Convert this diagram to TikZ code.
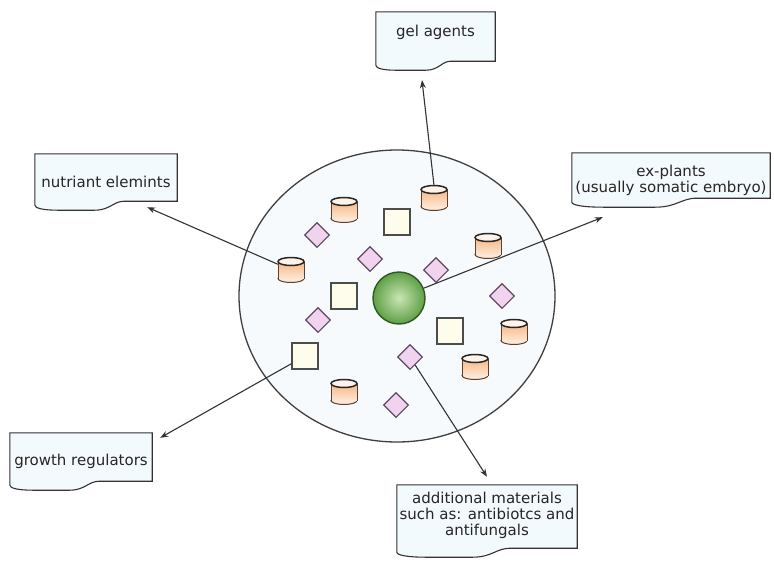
\documentclass[tikz,border=0pt]{standalone}
\usepackage{fontspec}
\setmainfont{DejaVu Sans}
\usetikzlibrary{shapes.geometric,arrows.meta,calc,backgrounds}
\definecolor{linec}{HTML}{333333}
\definecolor{boxfill}{HTML}{F3FAFD}
\definecolor{dishfill}{HTML}{F6FAFC}
\definecolor{canA}{HTML}{F5B784}
\definecolor{canB}{HTML}{FDE6D3}
\definecolor{canTop}{HTML}{FFF3EA}
\definecolor{canline}{HTML}{5A4030}
\definecolor{sqfill}{HTML}{FEFCEA}
\definecolor{dmfill}{HTML}{F1D3F0}
\definecolor{dmline}{HTML}{5C4A62}
\definecolor{ballin}{HTML}{C8E6B4}
\definecolor{ballout}{HTML}{5F9F46}
\definecolor{ballline}{HTML}{2F5A22}
\tikzset{
 doc/.style={rectangle, draw=none, inner sep=0pt, align=center,
   font=\fontsize{15}{16}\selectfont, text=black!85},
 docframe/.style={draw=linec, line width=1.1pt, fill=boxfill},
 conn/.style={draw=linec, line width=1.1pt, -{Stealth[length=8pt,width=6pt]}},
 canbox/.style={rectangle, minimum width=26pt, minimum height=25pt, inner sep=0pt},
 sqbox/.style={rectangle, draw=black!70, line width=1.1pt, fill=sqfill,
   minimum size=26pt, inner sep=0pt},
 dmbox/.style={diamond, draw=dmline, line width=1.1pt, fill=dmfill,
   minimum width=25pt, minimum height=25pt, inner sep=0pt},
 ballnode/.style={circle, minimum size=52pt, inner sep=0pt, inner color=ballin,
   outer color=ballout, draw=ballline, line width=1.4pt},
}
\newcommand\drawdoc[1]{%
 \path[docframe] let \p1=(#1.north west), \p2=(#1.south east), \n1={\x2-\x1} in
  (\x1,\y1) -- (\x2,\y1) -- (\x2,\y2+9pt) -- (\x1+0.63*\n1,\y2+9pt)
  .. controls (\x1+0.55*\n1,\y2+9pt) and (\x1+0.53*\n1,\y2) .. (\x1+0.42*\n1,\y2)
  -- (\x1+0.16*\n1,\y2) .. controls (\x1+0.06*\n1,\y2) and (\x1,\y2+2pt) .. (\x1,\y2+5pt)
  -- cycle;}
\begin{document}
\begin{tikzpicture}[x=1pt,y=-1pt]
\useasboundingbox (0,0) rectangle (774,562);
% dish
\draw[draw=black!75, line width=1.3pt, fill=dishfill] (397,296) ellipse [x radius=158, y radius=146];
% cylinders
\foreach \cx/\cy/\nm in {434/198/c1, 344/210/c2, 488/246/c3, 291/270/c4, 514/332/c5, 475/367/c6, 344/392/c7}{
  \node[canbox] (\nm) at (\cx,\cy) {};
  \filldraw[fill=canB, draw=canline, line width=1pt] (\cx,\cy+8.5) ellipse [x radius=13, y radius=4];
  \shade[top color=canA, bottom color=canB] (\cx-13,\cy-8.5) rectangle (\cx+13,\cy+8.5);
  \draw[canline, line width=1pt] (\cx-13,\cy-8.5) -- (\cx-13,\cy+8.5) (\cx+13,\cy-8.5) -- (\cx+13,\cy+8.5);
  \filldraw[fill=canTop, draw=black!85, line width=1.5pt] (\cx,\cy-8.5) ellipse [x radius=13, y radius=4];
}
% squares
\node[sqbox] (q1) at (397,222) {};
\node[sqbox] (q2) at (344,296) {};
\node[sqbox] (q3) at (305,356) {};
\node[sqbox] (q4) at (450,331) {};
% diamonds
\node[dmbox] (d1) at (317,235) {};
\node[dmbox] (d2) at (370,259) {};
\node[dmbox] (d3) at (436,270) {};
\node[dmbox] (d4) at (502,296) {};
\node[dmbox] (d5) at (318,320) {};
\node[dmbox] (d6) at (410,357) {};
\node[dmbox] (d7) at (396,405) {};
% sphere
\node[ballnode] (s) at (399,298) {};
% labels
\node[doc, minimum width=119pt, minimum height=58pt, text depth=19.5pt] (gel) at (435.5,41) {gel agents};
\node[doc, minimum width=142pt, minimum height=56pt] (nut) at (106,182) {nutriant elemints};
\node[doc, minimum width=198pt, minimum height=54pt] (exp) at (671,180) {ex-plants\\(usually somatic embryo)};
\node[doc, minimum width=142pt, minimum height=57pt] (gro) at (81,461.5) {growth regulators};
\node[doc, minimum width=180pt, minimum height=72pt, text depth=13.5pt] (add) at (487,521) {additional materials\\such as: antibiotcs and\\antifungals};
\begin{scope}[on background layer]
\fill[white] (0,0) rectangle (774,562);
\foreach \nm in {gel,nut,exp,gro,add} {\drawdoc{\nm}}
\end{scope}
% connectors
\draw[conn] (c1.north) -- ($(gel.south)+(-13.5,10)$);
\draw[conn] (c4) -- ($(nut.south east)+(-30,-3)$);
\draw[conn] (s) -- ($(exp.south west)+(31,10)$);
\draw[conn] (q3) -- ($(gro.north east)+(8,5)$);
\draw[conn] (d6) -- ($(add.north)+(0,-8)$);
\end{tikzpicture}
\end{document}
